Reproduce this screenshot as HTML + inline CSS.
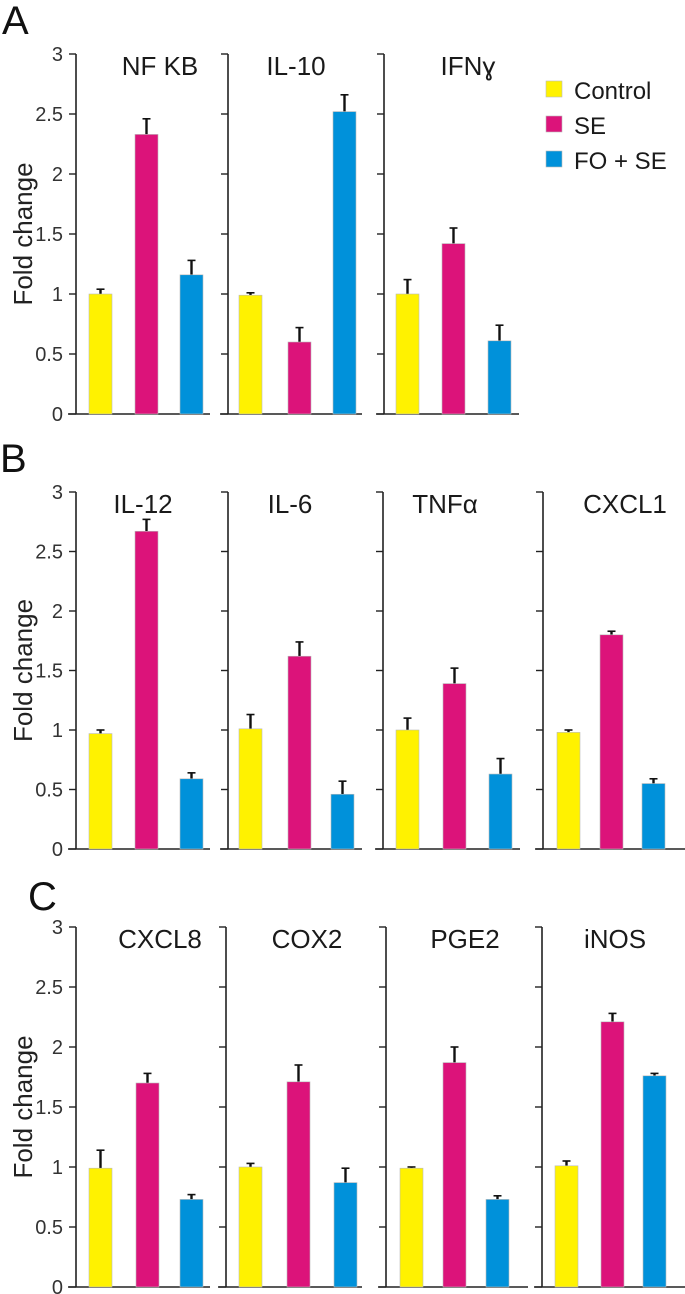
<!DOCTYPE html>
<html><head><meta charset="utf-8">
<style>
html,body{margin:0;padding:0;background:#fff;}
svg{display:block;font-family:"Liberation Sans",sans-serif;}
</style></head>
<body>
<svg id="fig" width="685" height="1294" viewBox="0 0 685 1294"></svg>
<script>
const groups = ["Control","SE","FO + SE"];
const colors = ["#fff200","#dc137a","#0091da"];
const tickValues = [0,0.5,1,1.5,2,2.5,3];
const tickLabels = ["0","0.5","1","1.5","2","2.5","3"];
// Panel A
const aTitles = ["NF KB","IL-10","IFNɣ"];
const aValues = [[1.0,2.33,1.16],[0.99,0.60,2.52],[1.0,1.42,0.61]];
const aErrors = [[0.04,0.13,0.12],[0.02,0.12,0.14],[0.12,0.13,0.13]];
// Panel B
const bTitles = ["IL-12","IL-6","TNFα","CXCL1"];
const bValues = [[0.97,2.67,0.59],[1.01,1.62,0.46],[1.0,1.39,0.63],[0.98,1.80,0.55]];
const bErrors = [[0.03,0.10,0.05],[0.12,0.12,0.11],[0.10,0.13,0.13],[0.02,0.03,0.04]];
// Panel C
const cTitles = ["CXCL8","COX2","PGE2","iNOS"];
const cValues = [[0.99,1.70,0.73],[1.0,1.71,0.87],[0.99,1.87,0.73],[1.01,2.21,1.76]];
const cErrors = [[0.15,0.08,0.04],[0.03,0.14,0.12],[0.01,0.13,0.03],[0.04,0.07,0.02]];

const svg = document.getElementById('fig');
const NS = "http://www.w3.org/2000/svg";
function mk(tag, attrs, parent){
  const e = document.createElementNS(NS, tag);
  for (const k in attrs) e.setAttribute(k, attrs[k]);
  (parent||svg).appendChild(e);
  return e;
}
function txt(x,y,s,size,anchor,parent,fill){
  const t = mk('text',{x:x,y:y,'font-size':size,'text-anchor':anchor||'start',fill:fill||'#1a1a1a'},parent);
  t.textContent = s;
  return t;
}

const panels = [
  {letter:"A", lx:2, ly:34, y0:414, y3:54, axes:[76,228,384], xEnd:[210,362,519],
   offs:[[13,59,104],[11,60,105],[12,58,104]], titles:aTitles, vals:aValues, errs:aErrors,
   tx:[160,296,468]},
  {letter:"B", lx:0, ly:472, y0:849, y3:492, axes:[76,228,383,543], xEnd:[210,362,520,685],
   offs:[[13,59,104],[11,60,103],[13,60,106],[14,57,99]], titles:bTitles, vals:bValues, errs:bErrors,
   tx:[143,290,445,625]},
  {letter:"C", lx:28, ly:910, y0:1287, y3:927, axes:[76,226,386,542], xEnd:[210,362,528,685],
   offs:[[13,60,104],[13,61,108],[14,57,100],[13,59,101]], titles:cTitles, vals:cValues, errs:cErrors,
   tx:[160,307,465,615]}
];

panels.forEach((p,pi)=>{
  const g = mk('g',{});
  
  
  const yScale = v => p.y0 - (p.y0 - p.y3) * v / 3;
  const L = txt(p.lx, p.ly, p.letter, 40, 'start', g, '#111');
  
  
  tickValues.forEach((v,i)=>{
    const t = txt(63, yScale(v)+7, tickLabels[i], 20, 'end', g, '#333');
    
    
  });
  const yc = (p.y0 + p.y3)/2;
  const yt = txt(0,0,"Fold change",26,'middle',g,'#222');
  yt.setAttribute('transform','translate(32,'+yc+') rotate(-90)');
  
  

  p.axes.forEach((ax,si)=>{
    const sg = mk('g',{},g);
    
    
    const ya = mk('line',{x1:ax,y1:p.y3,x2:ax,y2:p.y0,stroke:'#222','stroke-width':1.6},sg);
    
    
    tickValues.forEach(v=>{
      const tk = mk('line',{x1:ax-7,y1:yScale(v),x2:ax,y2:yScale(v),stroke:'#222','stroke-width':1.4},sg);
      
      
    });
    const xa = mk('line',{x1:ax-8,y1:p.y0,x2:p.xEnd[si],y2:p.y0,stroke:'#222','stroke-width':1.6},sg);
    
    
    const tt = txt(p.tx[si], p.y3+21, p.titles[si], 26, 'middle', sg, '#1a1a1a');
    
    
    p.vals[si].forEach((v,bi)=>{
      const x = ax + p.offs[si][bi];
      const w = 23;
      const top = yScale(v);
      const eTop = yScale(v + p.errs[si][bi]);
      const cx = x + w/2;
      const el = mk('line',{x1:cx,y1:eTop,x2:cx,y2:top,stroke:'#111','stroke-width':2.4},sg);
      
      
      const cap = mk('line',{x1:cx-4,y1:eTop,x2:cx+4,y2:eTop,stroke:'#111','stroke-width':1.6},sg);
      
      
      const r = mk('rect',{x:x,y:top,width:w,height:p.y0-top,fill:colors[bi],stroke:'#bbb','stroke-width':0.6},sg);
      
      
    });
  });
});

const lg = mk('g',{});


groups.forEach((name,i)=>{
  const y = 81 + i*35;
  const sq = mk('rect',{x:546,y:y,width:16,height:16,fill:colors[i],stroke:'#bbb','stroke-width':0.6},lg);
  
  
  const t = txt(574, y+18, name, 24, 'start', lg, '#1a1a1a');
  
  
});
</script>
</body></html>
